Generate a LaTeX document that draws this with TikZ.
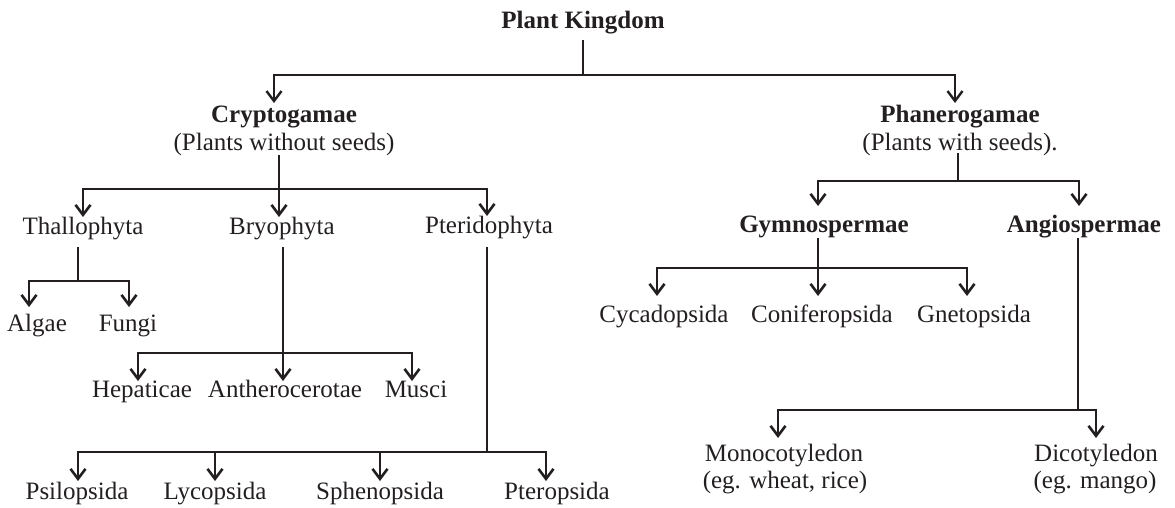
\documentclass[tikz,border=0pt]{standalone}
\usepackage{fontspec}
\setmainfont{Liberation Serif}
\usetikzlibrary{arrows.meta}
\definecolor{ink}{HTML}{231F20}
\begin{document}
\begin{tikzpicture}[x=1pt,y=-1pt,
  lbl/.style={anchor=base, inner sep=0pt, text=ink, font=\fontsize{25}{28}\selectfont},
  blbl/.style={anchor=base, inner sep=0pt, text=ink, font=\fontsize{25}{28}\selectfont\bfseries},
  stem/.style={draw=ink, line width=1.1pt},
  bar/.style={draw=ink, line width=2.3pt, line cap=rect},
  thinbar/.style={draw=ink, line width=1.5pt, line cap=rect},
  arr/.style={draw=ink, line width=2.3pt, -{Straight Barb[length=10pt,width=15pt,line width=2.6pt]}},
  thinarr/.style={draw=ink, line width=1.5pt, -{Straight Barb[length=10pt,width=15pt,line width=2.4pt]}}]
\useasboundingbox (0,0) rectangle (1175,507);

% ---- nodes
\node[blbl] (pk) at (583,28) {Plant Kingdom};
\node[blbl] (cry) at (284,122) {Cryptogamae};
\node[lbl] (cryS) at (284,150) {(Plants without seeds)};
\node[blbl] (pha) at (960,122) {Phanerogamae};
\node[lbl] (phaS) at (960,150) {(Plants with seeds).};
\node[lbl] (tha) at (83,234) {Thallophyta};
\node[lbl] (bry) at (282,234) {Bryophyta};
\node[lbl] (pte) at (489,233) {Pteridophyta};
\node[blbl] (gym) at (824,232) {Gymnospermae};
\node[blbl] (ang) at (1084,232) {Angiospermae};
\node[lbl] (alg) at (37,331) {Algae};
\node[lbl] (fun) at (128,331) {Fungi};
\node[lbl] (cyc) at (664,322) {Cycadopsida};
\node[lbl] (con) at (822,322) {Coniferopsida};
\node[lbl] (gne) at (974,322) {Gnetopsida};
\node[lbl] (hep) at (142,397) {Hepaticae};
\node[lbl] (ant) at (285,397) {Antherocerotae};
\node[lbl] (mus) at (416,397) {Musci};
\node[lbl] (mon) at (784,461) {Monocotyledon};
\node[lbl] (monS) at (785,488) {(eg. wheat, rice)};
\node[lbl] (dic) at (1096,461) {Dicotyledon};
\node[lbl] (dicS) at (1095,488) {(eg. mango)};
\node[lbl] (psi) at (77,499) {Psilopsida};
\node[lbl] (lyc) at (215,499) {Lycopsida};
\node[lbl] (sph) at (380,499) {Sphenopsida};
\node[lbl] (ptr) at (557,499) {Pteropsida};

% ---- junctions on the bars
\coordinate (j0) at (583,75);
\coordinate (j1) at (279,189);
\coordinate (j2) at (958,181);
\coordinate (j3) at (78,281);
\coordinate (j4) at (283,353);
\coordinate (j5) at (487,452);
\coordinate (j6) at (818,268);
\coordinate (j7) at (1078,410);

% ---- Plant Kingdom
\draw[stem] (583,40) -- (j0);
\draw[thinbar] (274,75) -- (955,75);
\draw[thinarr] (274,75) -- (274,103);
\draw[thinarr] (955,75) -- (955,103);

% ---- Cryptogamae
\draw[stem] (279,155) -- (j1);
\draw[bar] (83,189) -- (487,189);
\draw[arr] (83,189) -- (83,217);
\draw[arr] (j1) -- (279,217);
\draw[arr] (487,189) -- (487,216);

% ---- Phanerogamae
\draw[stem] (958,153) -- (j2);
\draw[bar] (818,181) -- (1079,181);
\draw[arr] (818,181) -- (818,206);
\draw[arr] (1079,181) -- (1079,206);

% ---- Thallophyta
\draw[stem] (78,247) -- (j3);
\draw[bar] (29,281) -- (129,281);
\draw[arr] (29,281) -- (29,307);
\draw[arr] (129,281) -- (129,307);

% ---- Bryophyta
\draw[stem] (283,247) -- (j4);
\draw[bar] (138,353) -- (412,353);
\draw[arr] (138,353) -- (138,381);
\draw[arr] (j4) -- (283,381);
\draw[arr] (412,353) -- (412,381);

% ---- Pteridophyta
\draw[stem] (487,247) -- (j5);
\draw[bar] (78,452) -- (546,452);
\draw[arr] (78,452) -- (78,481);
\draw[arr] (215,452) -- (215,481);
\draw[arr] (380,452) -- (380,481);
\draw[arr] (546,452) -- (546,481);

% ---- Gymnospermae
\draw[stem] (818,238) -- (j6);
\draw[bar] (657,268) -- (967,268);
\draw[arr] (657,268) -- (657,296);
\draw[arr] (j6) -- (818,296);
\draw[arr] (967,268) -- (967,296);

% ---- Angiospermae
\draw[stem] (1078,238) -- (j7);
\draw[thinbar] (778,410) -- (1096,410);
\draw[arr] (778,410) -- (778,438);
\draw[arr] (1096,410) -- (1096,438);
\end{tikzpicture}
\end{document}
